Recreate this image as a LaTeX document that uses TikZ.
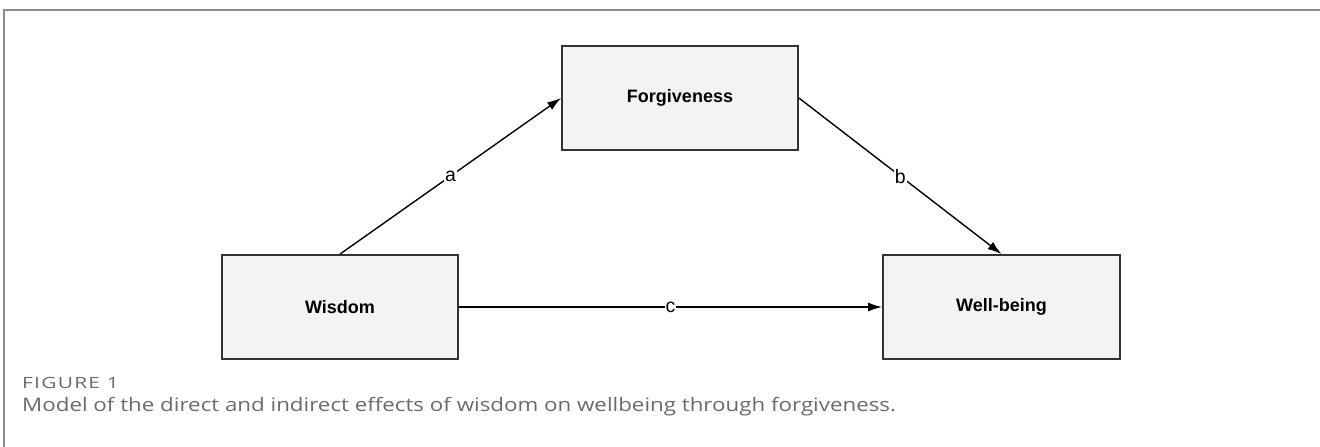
\documentclass[tikz,border=0pt]{standalone}
\usepackage{fontspec}
\setmainfont{Liberation Sans}
\newfontfamily\capfont{Open Sans}
\newfontfamily\figfont[LetterSpace=6]{Open Sans}
\usetikzlibrary{arrows.meta}
\definecolor{boxfill}{HTML}{F3F3F3}
\definecolor{boxdraw}{HTML}{333333}
\definecolor{framegray}{HTML}{8C8C8C}
\definecolor{capgray}{HTML}{6A6A6A}
\tikzset{
  varbox/.style={draw=boxdraw, fill=boxfill, line width=1.8pt, minimum width=236pt, minimum height=104pt, inner sep=0pt, font=\fontsize{18}{20}\selectfont\bfseries},
  path/.style={draw=black, line width=1.4pt, -{Latex[length=14pt,width=9pt]}},
  lbl/.style={fill=white, inner sep=1pt, font=\fontsize{19.5}{21}\selectfont},
  captext/.style={anchor=base west, inner sep=0pt, text=capgray}
}
\begin{document}
\begin{tikzpicture}[x=1pt,y=-1pt]
\useasboundingbox (0,0) rectangle (1320,447);
\draw[framegray, line width=2.4pt] (3,10) -- (1320,10);
\draw[framegray, line width=1.5pt] (4,10) -- (4,447);
\node[varbox] (forg) at (680,98) {Forgiveness};
\node[varbox] (wis) at (340,307) {Wisdom};
\node[varbox, minimum width=237pt] (well) at (1001.5,307) {Well-being};
\draw[path] (wis.north) -- node[lbl] {a} (forg.west);
\draw[path] (forg.east) -- node[lbl] {b} (well.north);
\draw[path] (wis.east) -- node[lbl] {c} (well.west);
\node[captext] (fig) at (22,388) {\scalebox{1.35}[1]{\figfont\fontsize{15.5}{17}\selectfont FIGURE 1}};
\node[captext] (cap) at (22,411) {\scalebox{1.2}[1]{\capfont\fontsize{18.6}{21}\selectfont Model of the direct and indirect effects of wisdom on wellbeing through forgiveness.}};
\end{tikzpicture}
\end{document}
